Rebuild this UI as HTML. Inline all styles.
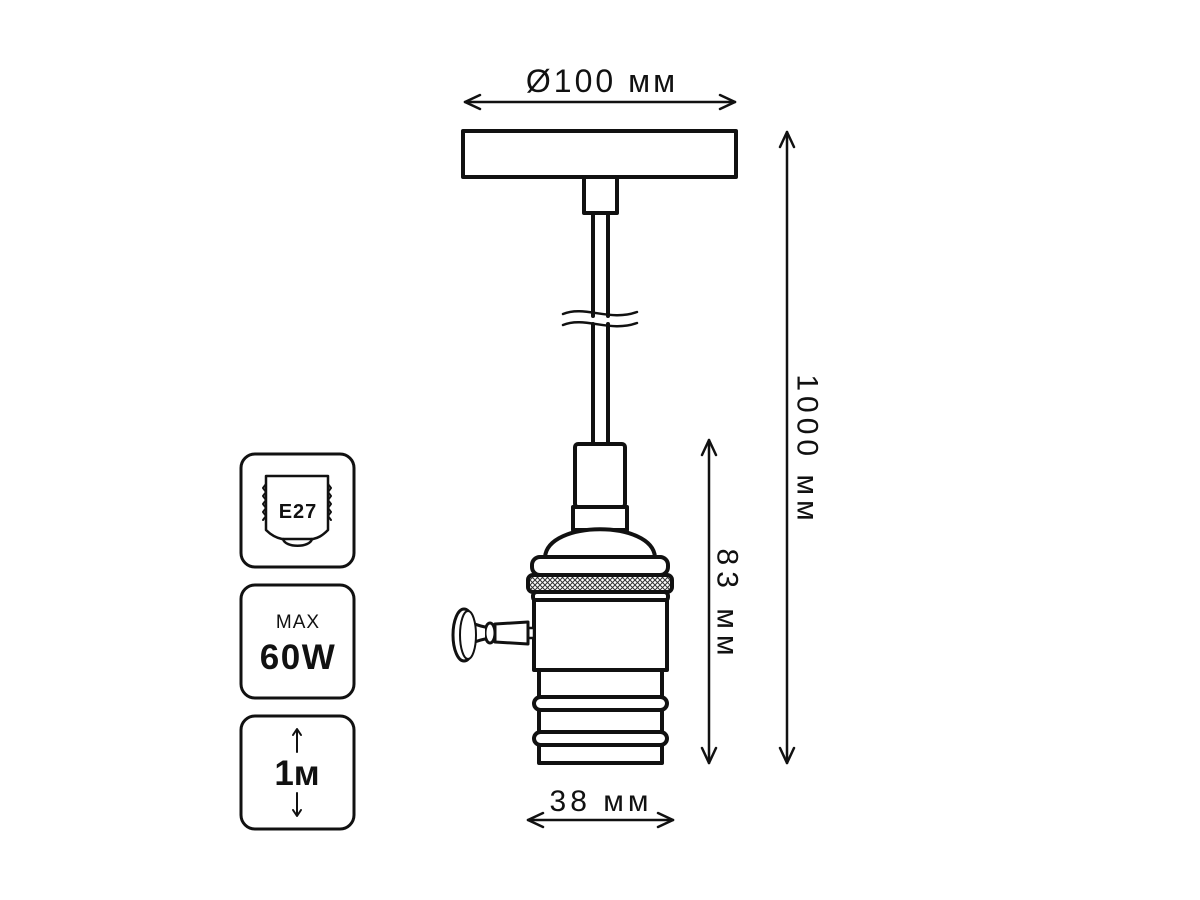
<!DOCTYPE html>
<html><head><meta charset="utf-8"><style>
html,body{margin:0;padding:0;background:#fff;}
svg{display:block;}
text{font-family:"Liberation Sans","DejaVu Sans",sans-serif;fill:#111;}
</style></head><body>
<svg width="1200" height="900" viewBox="0 0 1200 900" xmlns="http://www.w3.org/2000/svg">
<defs>
<pattern id="knurl" width="5" height="5" patternUnits="userSpaceOnUse">
<rect width="5" height="5" fill="#fff"/>
<path d="M0 0L5 5M5 0L0 5" stroke="#333" stroke-width="1"/>
</pattern>
</defs>
<g fill="none" stroke="#111" stroke-width="4" stroke-linejoin="round" stroke-linecap="round">
<rect x="463" y="131" width="273" height="46" fill="#fff"/>
<rect x="584" y="177" width="33" height="36" fill="#fff"/>
<line x1="593" y1="213" x2="593" y2="316"/>
<line x1="608" y1="213" x2="608" y2="316"/>
<line x1="593" y1="324" x2="593" y2="445"/>
<line x1="608" y1="324" x2="608" y2="445"/>
<path d="M563 314 C585 305,610 322,637 312" stroke-width="2.5"/>
<path d="M563 325 C585 316,610 333,637 323" stroke-width="2.5"/>
<rect x="575" y="444" width="50" height="63" rx="3" fill="#fff"/>
<rect x="573" y="507" width="54" height="23" fill="#fff"/>
<path d="M545 557 C548 520,652 520,655 557 Z" fill="#fff"/>
<rect x="532" y="557" width="136" height="18" rx="8" fill="#fff"/>
<rect x="528" y="575" width="144" height="17" rx="5" fill="url(#knurl)"/>
<rect x="533" y="592" width="135" height="9" rx="4" fill="#fff"/>
<rect x="534" y="600" width="133" height="70" fill="#fff"/>
<rect x="539" y="670" width="123" height="93" fill="#fff"/>
<rect x="534" y="697" width="133" height="13" rx="6.5" fill="#fff"/>
<rect x="534" y="732" width="133" height="13" rx="6.5" fill="#fff"/>
<rect x="528" y="628" width="6" height="10" stroke-width="2.5" fill="#fff"/>
<path d="M495 624 L528 622 L528 644 L495 642 Z" stroke-width="3" fill="#fff"/>
<ellipse cx="490" cy="633" rx="5" ry="10" stroke-width="3" fill="#fff"/>
<path d="M485 627 C475 625,470 622,466 620 L466 646 C470 644,475 641,485 639" stroke-width="3" fill="#fff"/>
<ellipse cx="464" cy="635" rx="11" ry="26" stroke-width="3" fill="#fff"/>
<ellipse cx="468" cy="635" rx="8" ry="24" stroke-width="2" fill="#fff"/>
<g stroke-width="2.5">
<line x1="465" y1="102" x2="735" y2="102"/>
<path d="M480 95 L465 102 L480 109 M720 95 L735 102 L720 109"/>
<line x1="787" y1="132" x2="787" y2="763"/>
<path d="M780 147 L787 132 L794 147 M780 748 L787 763 L794 748"/>
<line x1="709" y1="440" x2="709" y2="763"/>
<path d="M702 455 L709 440 L716 455 M702 748 L709 763 L716 748"/>
<line x1="528" y1="820" x2="673" y2="820"/>
<path d="M543 813 L528 820 L543 827 M658 813 L673 820 L658 827"/>
</g>
<rect x="241" y="454" width="113" height="113" rx="14" stroke-width="3"/>
<rect x="241" y="585" width="113" height="113" rx="14" stroke-width="3"/>
<rect x="241" y="716" width="113" height="113" rx="14" stroke-width="3"/>
<path d="M266 476 L328 476 L328 530 C322 536,318 538,313 539 L282 539 C277 538,272 536,266 530 Z" stroke-width="2.5"/>
<path d="M266 484 l-3 4 l3 4 l-3 4 l3 4 l-3 4 l3 4 l-3 4 l3 4 l-3 4 M328 484 l3 4 l-3 4 l3 4 l-3 4 l3 4 l-3 4 l3 4 l-3 4 l3 4" stroke-width="2"/>
<path d="M283 539 C285 548,310 548,312 539" stroke-width="2.5"/>
<g stroke-width="2">
<line x1="297" y1="730" x2="297" y2="752"/>
<path d="M293 735 L297 729 L301 735"/>
<line x1="297" y1="793" x2="297" y2="815"/>
<path d="M293 810 L297 816 L301 810"/>
</g>
</g>
<text x="602" y="92" font-size="32" letter-spacing="3" text-anchor="middle">Ø100 мм</text>
<text x="601" y="811" font-size="30" letter-spacing="4" text-anchor="middle">38 мм</text>
<text transform="translate(807,450) rotate(90)" font-size="30" letter-spacing="5" text-anchor="middle" dominant-baseline="central">1000 мм</text>
<text transform="translate(727,605) rotate(90)" font-size="30" letter-spacing="6" text-anchor="middle" dominant-baseline="central">83 мм</text>
<text x="298" y="518" font-size="20" font-weight="bold" letter-spacing="1" text-anchor="middle">E27</text>
<text x="298" y="628" font-size="19" letter-spacing="1" text-anchor="middle">MAX</text>
<text x="298" y="669" font-size="35" font-weight="bold" letter-spacing="1.5" text-anchor="middle">60W</text>
<text x="297" y="785" font-size="35" font-weight="bold" text-anchor="middle">1м</text>
</svg>
</body></html>
